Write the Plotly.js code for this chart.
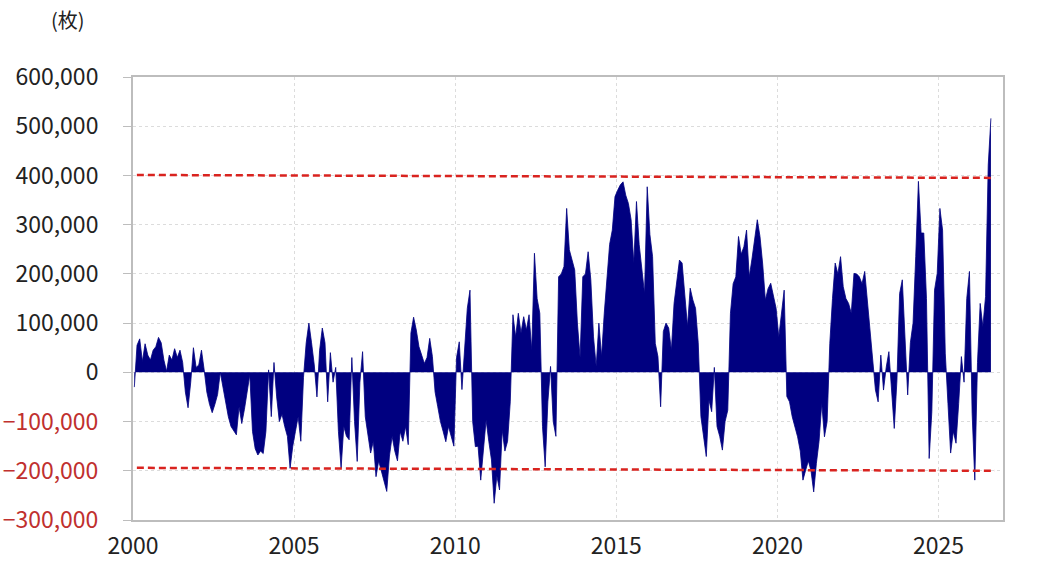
<!DOCTYPE html>
<html>
<head>
<meta charset="utf-8">
<script src="https://cdn.plot.ly/plotly-3.0.1.min.js"></script>
<style>html,body{margin:0;padding:0;background:#fff;}#chart{width:1040px;height:576px;}</style>
</head>
<body>
<div id="chart"></div>
<script>
// Monthly values (thousand contracts / 枚)
const y2000 = [-30, 55, 68, 22, 58, 35, 25, 45, 52, 71, 60, 25];
const y2001 = [2, 35, 25, 48, 30, 45, 20, -40, -72, -20, 50, 10];
const y2002 = [15, 45, 5, -40, -65, -82, -65, -45, 0, -30, -60, -90];
const y2003 = [-110, -120, -127, -70, -104, -75, -40, -5, -120, -155, -168, -160];
const y2004 = [-165, -120, 5, -90, 20, -50, -100, -85, -110, -130, -195, -150];
const y2005 = [-120, -90, -140, -10, 60, 100, 60, 15, -50, 45, 90, 60];
const y2006 = [-60, 40, -20, 10, -120, -195, -110, -130, -137, 30, -100, -181];
const y2007 = [-20, 42, -90, -130, -164, -140, -212, -180, -200, -220, -242, -170];
const y2008 = [-130, -160, -180, -120, -140, -110, -147, 80, 112, 86, 52, 35];
const y2009 = [18, 30, 69, 32, -40, -70, -100, -120, -141, -110, -130, -150];
const y2010 = [30, 62, -35, 60, 130, 167, -100, -151, -150, -219, -165, -97];
const y2011 = [-140, -178, -266, -210, -239, -117, -160, -140, -60, 117, 72, 120];
const y2012 = [80, 113, 86, 117, 45, 242, 150, 120, -110, -192, -60, 12];
const y2013 = [-100, -130, 194, 200, 215, 333, 249, 230, 208, 100, 30, 194];
const y2014 = [200, 245, 188, 72, 12, 100, 32, 120, 194, 260, 289, 357];
const y2015 = [370, 381, 387, 360, 343, 310, 222, 347, 260, 208, 160, 377];
const y2016 = [280, 235, 59, 32, -70, 83, 100, 90, 45, 140, 180, 228];
const y2017 = [222, 150, 93, 171, 147, 130, 60, -90, -130, -171, -56, -80];
const y2018 = [10, -110, -130, -158, -100, -77, 120, 180, 194, 276, 240, 255];
const y2019 = [289, 194, 230, 270, 310, 276, 220, 147, 170, 181, 154, 130];
const y2020 = [72, 120, 167, -49, -60, -90, -110, -131, -160, -219, -199, -180];
const y2021 = [-200, -243, -185, -140, -63, -131, -100, 59, 150, 222, 200, 235];
const y2022 = [174, 150, 140, 120, 201, 200, 194, 180, 205, 147, 90, 20];
const y2023 = [-36, -60, 35, -36, 10, 42, -43, -114, -16, 160, 188, 72];
const y2024 = [-46, 60, 100, 235, 388, 283, 283, 150, -175, -80, 167, 201];
const y2025 = [333, 289, 39, -63, -164, -120, -144, -63, 32, -20, 150, 205];
const y2026 = [-83, -219, 20, 140, 93, 154, 421, 516];

const yearList = [2000,2001,2002,2003,2004,2005,2006,2007,2008,2009,2010,2011,2012,2013,
                  2014,2015,2016,2017,2018,2019,2020,2021,2022,2023,2024,2025,2026];
const yearValues = [y2000,y2001,y2002,y2003,y2004,y2005,y2006,y2007,y2008,y2009,y2010,y2011,y2012,y2013,
                    y2014,y2015,y2016,y2017,y2018,y2019,y2020,y2021,y2022,y2023,y2024,y2025,y2026];

// Reference (dashed) lines
const refX = [2000.12, 2026.75];
const upperY = [401000, 395000];
const lowerY = [-194000, -200000];

// Y tick labels
const yTickVals = [600000, 500000, 400000, 300000, 200000, 100000, 0, -100000, -200000, -300000];
const yTickText = ['600,000', '500,000', '400,000', '300,000', '200,000', '100,000', '0',
  '<span style="color:#c0302e">−100,000</span>',
  '<span style="color:#c0302e">−200,000</span>',
  '<span style="color:#c0302e">−300,000</span>'];
const xTickVals = [2000, 2005, 2010, 2015, 2020, 2025];

const xs = [], ys = [];
yearList.forEach((yr, i) => {
  yearValues[i].forEach((v, m) => { xs.push(yr + (m + 0.5) / 12); ys.push(v * 1000); });
});

const FONT = '"Noto Sans CJK KR", "Noto Sans CJK JP", "Noto Sans", sans-serif';

const traces = [
  {x: xs, y: ys, type: 'scatter', mode: 'lines', fill: 'tozeroy',
   line: {color: '#000080', width: 0.8}, fillcolor: '#000080', hoverinfo: 'x+y'},
  {x: refX, y: upperY, type: 'scatter', mode: 'lines',
   line: {color: '#d9231f', width: 2.5, dash: '7px,4px'}},
  {x: refX, y: lowerY, type: 'scatter', mode: 'lines',
   line: {color: '#d9231f', width: 2.5, dash: '7px,4px'}}
];

const layout = {
  width: 1040, height: 576,
  margin: {l: 133, r: 37, t: 77, b: 56},
  paper_bgcolor: '#fff', plot_bgcolor: '#fff',
  showlegend: false,
  font: {family: FONT, size: 22, color: '#222'},
  xaxis: {
    range: [2000, 2027], tickvals: xTickVals, ticktext: xTickVals.map(String),
    showgrid: true, gridcolor: '#dcdcdc', griddash: 'dot', gridwidth: 1,
    showline: true, linecolor: '#bdbdbd', linewidth: 2, mirror: true,
    zeroline: false, ticks: '', ticklabelstandoff: 4,
    tickfont: {family: FONT, size: 23, color: '#222'}
  },
  yaxis: {
    range: [-300000, 600000], tickvals: yTickVals, ticktext: yTickText,
    showgrid: true, gridcolor: '#dcdcdc', griddash: 'dot', gridwidth: 1,
    showline: true, linecolor: '#bdbdbd', linewidth: 2, mirror: true,
    zeroline: false, ticks: 'outside', ticklen: 8, tickcolor: '#bdbdbd', tickwidth: 1,
    ticklabelstandoff: 20,
    tickfont: {family: FONT, size: 23, color: '#222'}
  },
  annotations: [{
    text: '(枚)', xref: 'paper', yref: 'paper', x: -0.0747, y: 1.1287,
    xanchor: 'center', yanchor: 'middle', showarrow: false,
    font: {family: FONT, size: 20, color: '#222'}
  }]
};

Plotly.newPlot('chart', traces, layout, {displayModeBar: false, staticPlot: true});
</script>
</body>
</html>
